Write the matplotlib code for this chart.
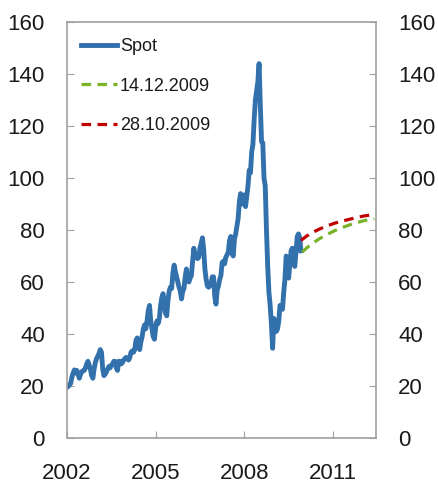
import numpy as np
import matplotlib.pyplot as plt

# spot price, two points per month from Jan 2002
spot_start = 2002.0
spot_step = 1 / 24
spot_values = [
    # 2002
    19.5, 19.8, 20.5, 21.0, 23.5, 25.0, 26.2, 25.0, 26.0, 24.5, 23.0, 24.5,
    25.5, 25.8, 26.0, 27.0, 28.5, 29.5, 28.0, 26.5, 24.0, 23.0, 26.5, 29.0,
    # 2003
    30.5, 31.5, 32.5, 34.0, 33.0, 26.5, 24.0, 24.5, 25.5, 26.5, 27.5, 27.0,
    28.0, 28.5, 29.5, 29.5, 27.0, 26.0, 29.5, 29.5, 28.5, 29.0, 30.0, 30.5,
    # 2004
    31.0, 30.5, 30.0, 31.0, 33.0, 33.5, 33.0, 34.0, 37.5, 38.5, 36.0, 34.0,
    37.0, 39.0, 42.0, 43.5, 42.0, 45.0, 49.0, 51.0, 45.0, 42.0, 39.0, 38.0,
    # 2005
    42.5, 45.0, 44.0, 46.0, 51.0, 54.0, 55.5, 51.0, 48.0, 47.0, 53.0, 56.5,
    58.0, 57.5, 63.5, 66.5, 64.0, 62.0, 60.0, 58.0, 56.5, 53.5, 56.5, 57.5,
    # 2006
    62.0, 65.0, 61.0, 60.0, 61.5, 62.5, 68.0, 73.0, 70.5, 69.5, 69.0, 69.5,
    73.0, 75.0, 77.0, 72.5, 65.0, 61.0, 58.5, 58.0, 58.5, 59.5, 62.0, 62.0,
    # 2007
    54.5, 51.5, 57.0, 58.5, 61.0, 62.5, 67.5, 68.0, 67.0, 69.5, 70.5, 71.5,
    76.0, 77.5, 71.0, 70.0, 76.5, 78.5, 81.5, 84.5, 91.0, 94.0, 90.0, 93.0,
    # 2008
    93.5, 89.0, 93.0, 97.0, 103.0, 102.0, 110.0, 113.0, 122.5, 130.0, 133.5, 137.0,
    144.0, 128.0, 114.0, 113.5, 100.0, 97.0, 80.0, 66.0, 56.0, 51.0, 44.0, 34.5,
    # 2009
    46.0, 44.0, 41.0, 42.0, 45.0, 51.0, 51.0, 49.5, 56.0, 61.0, 70.0, 68.0,
    61.5, 67.0, 72.0, 73.0, 67.5, 66.0, 72.0, 77.5, 78.5, 77.0, 72.0,
]
spot_years = spot_start + spot_step * np.arange(len(spot_values))

# futures curves
fut_oct_years = [2009.92, 2010.1, 2010.3, 2010.55, 2010.8, 2011.05, 2011.3, 2011.55, 2011.8, 2012.05, 2012.4]
fut_oct_values = [76.0, 77.6, 79.0, 80.4, 81.6, 82.6, 83.4, 84.1, 84.8, 85.4, 86.0]
fut_dec_years = [2009.96, 2010.1, 2010.3, 2010.55, 2010.8, 2011.05, 2011.3, 2011.55, 2011.8, 2012.05, 2012.4]
fut_dec_values = [71.5, 73.0, 74.8, 76.7, 78.3, 79.7, 80.9, 81.9, 82.8, 83.6, 84.3]

x_ticks = [2002, 2005, 2008, 2011]
y_ticks = [0, 20, 40, 60, 80, 100, 120, 140, 160]

plt.rcParams['font.family'] = ['Liberation Sans', 'DejaVu Sans']
text_color = '#1a1a1a'

fig = plt.figure(figsize=(4.38, 4.87), dpi=100)
ax = fig.add_axes([0.153, 0.1006, 0.705, 0.8542])

ax.plot(spot_years, spot_values, color='#3271ab', linewidth=3.5, label='Spot', solid_joinstyle='round')
ax.plot(fut_dec_years, fut_dec_values, color='#78b32a', linewidth=2.3, linestyle=(0, (3, 2)), label='14.12.2009')
ax.plot(fut_oct_years, fut_oct_values, color='#c00000', linewidth=2.3, linestyle=(0, (3, 2)), label='28.10.2009')

ax.set_xlim(2002, 2012.45)
ax.set_ylim(0, 160)
ax.set_xticks(x_ticks)
ax.set_yticks(y_ticks)

spine_color = '#a0a0a0'
for s in ax.spines.values():
    s.set_color(spine_color)
    s.set_linewidth(1.2)

ax.tick_params(axis='y', which='both', direction='in', length=5, color=spine_color,
               labelsize=16, pad=16, right=True, labelright=True, labelcolor=text_color)
ax.tick_params(axis='x', direction='in', length=5, color=spine_color,
               labelsize=16, pad=18, labelcolor=text_color)

leg = ax.legend(loc='upper left', bbox_to_anchor=(-0.013, 1.005), frameon=False, fontsize=13,
                handlelength=2.0, handletextpad=0.15, labelspacing=1.25, borderaxespad=0.6)
for t in leg.get_texts():
    t.set_color(text_color)

fig.savefig('out.png', dpi=100)
